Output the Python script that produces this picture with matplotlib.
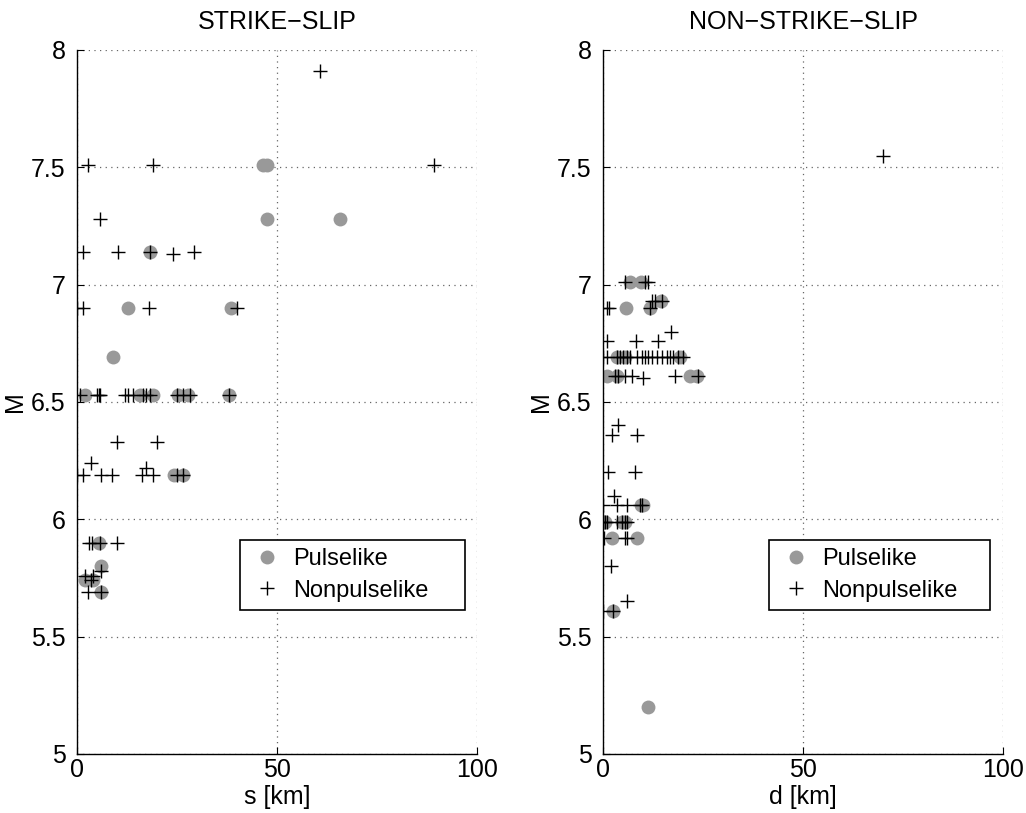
import numpy as np
import matplotlib
matplotlib.use('Agg')
import matplotlib.pyplot as plt

plt.rcParams['font.family'] = ['Liberation Sans', 'DejaVu Sans']
plt.rcParams['font.size'] = 18

# strike-slip: distance s [km] and magnitude M
ss_pulse_x = [46.5, 47.5, 47.5, 65.75, 18.25, 12.8, 38.5, 9, 2, 15.75, 19, 25.25, 27.75, 38,
              24.25, 26.5, 5.5, 6, 2, 4, 6]
ss_pulse_m = [7.51, 7.51, 7.28, 7.28, 7.14, 6.90, 6.90, 6.69, 6.53, 6.53, 6.53, 6.53, 6.53, 6.53,
              6.19, 6.19, 5.90, 5.80, 5.74, 5.74, 5.69]
ss_non_x = [60.8, 89.3, 2.75, 19, 5.75, 1.5, 10.3, 18.25, 24, 29.25, 0, 1.5, 18, 40,
            0.75, 5, 5.5, 5.75, 12, 12.75, 14, 16.5, 17.25, 18.25, 25, 26.5, 28.25, 38,
            10, 20, 3.5, 17.25,
            0, 1.5, 6, 8.75, 16.25, 19, 25, 26.5,
            3, 3.75, 5.75, 10, 6, 2, 3.5, 4, 2.75, 6]
ss_non_m = [7.91, 7.51, 7.51, 7.51, 7.28, 7.14, 7.14, 7.14, 7.13, 7.14, 6.90, 6.90, 6.90, 6.90,
            6.53, 6.53, 6.53, 6.53, 6.53, 6.53, 6.53, 6.53, 6.53, 6.53, 6.53, 6.53, 6.53, 6.53,
            6.33, 6.33, 6.24, 6.22,
            6.19, 6.19, 6.19, 6.19, 6.19, 6.19, 6.19, 6.19,
            5.90, 5.90, 5.90, 5.90, 5.78, 5.76, 5.74, 5.76, 5.69, 5.69]

# non-strike-slip: distance d [km] and magnitude M
ns_pulse_x = [6.75, 9.5, 14.5, 5.75, 11.75, 3.5, 5.5, 19.25, 1, 3.5, 21.75, 23.5,
              9.5, 10, 0, 0.5, 4.75, 5.5, 2.25, 8.5, 2.5, 11.25]
ns_pulse_m = [7.01, 7.01, 6.93, 6.90, 6.90, 6.69, 6.69, 6.69, 6.61, 6.61, 6.61, 6.61,
              6.06, 6.06, 5.99, 5.99, 5.99, 5.99, 5.92, 5.92, 5.61, 5.20]
ns_non_x = [70, 5.5, 10.5, 11.25, 12.25, 13, 14.75, 1, 1.5, 11.75, 17, 1, 8.25, 13.75,
            0, 1, 3.5, 4.25, 5, 6, 6.75, 8.5, 9.75, 10.5, 11.25, 12.25, 13.5, 14.75, 16, 16.75,
            17.5, 18.75, 20,
            3, 3.75, 5.5, 7.25, 18, 23.75, 10,
            3.75, 2.25, 8.5, 1.25, 8, 2.75,
            0, 3.5, 6, 9.25, 9.75,
            0, 0.5, 1, 3.5, 4.75, 5.5, 6,
            0.25, 5.5, 6,
            2, 6, 0, 2.5]
ns_non_m = [7.55, 7.01, 7.01, 7.01, 6.93, 6.93, 6.93, 6.90, 6.90, 6.90, 6.80, 6.76, 6.76, 6.76,
            6.69, 6.69, 6.69, 6.69, 6.69, 6.69, 6.69, 6.69, 6.69, 6.69, 6.69, 6.69, 6.69, 6.69, 6.69, 6.69,
            6.69, 6.69, 6.69,
            6.61, 6.61, 6.61, 6.61, 6.61, 6.61, 6.60,
            6.40, 6.36, 6.36, 6.20, 6.20, 6.10,
            6.06, 6.06, 6.06, 6.06, 6.06,
            5.99, 5.99, 5.99, 5.99, 5.99, 5.99, 5.99,
            5.92, 5.92, 5.92,
            5.80, 5.65, 5.61, 5.61]

yticks = [5, 5.5, 6, 6.5, 7, 7.5, 8]
ytick_labels = ['5', '5.5', '6', '6.5', '7', '7.5', '8']
xticks = [0, 50, 100]


def draw_panel(ax, px, pm, nx, nm, title, xlabel, leg_box):
    ax.plot(px, pm, 'o', color='#999999', markersize=10, markeredgewidth=0, label='Pulselike')
    ax.plot(nx, nm, '+', color='black', markersize=10, markeredgewidth=1.0, label='Nonpulselike')
    ax.set_xlim(0, 100)
    ax.set_ylim(5, 8)
    ax.set_xticks(xticks)
    ax.set_yticks(yticks)
    ax.set_yticklabels(ytick_labels)
    ax.grid(True, linestyle=(0, (1, 3.5)), color='#666666', linewidth=0.9)
    ax.set_axisbelow(True)
    for side in ['top', 'right']:
        ax.spines[side].set_visible(False)
    for side in ['left', 'bottom']:
        ax.spines[side].set_linewidth(1.0)
    ax.tick_params(direction='in', length=5, width=0.8)
    ax.tick_params(axis='y', pad=8)
    ax.tick_params(axis='x', pad=3)
    ax.set_title(title, fontsize=18, pad=15)
    ax.set_xlabel(xlabel, labelpad=2)
    ax.set_ylabel('M', labelpad=3)
    leg = ax.legend(loc='upper left', bbox_to_anchor=leg_box, mode='expand', borderaxespad=0,
                    fancybox=False, edgecolor='black', framealpha=1, handlelength=1.6,
                    handletextpad=0.3, borderpad=0.35, labelspacing=0.4, fontsize=17)
    leg.get_frame().set_linewidth(1.2)


fig = plt.figure(figsize=(10.26, 8.13), dpi=100)
ax1 = fig.add_axes([0.075, 0.0726, 0.39, 0.866])
ax2 = fig.add_axes([0.5877, 0.0726, 0.39, 0.866])
draw_panel(ax1, ss_pulse_x, ss_pulse_m, ss_non_x, ss_non_m, 'STRIKE\u2212SLIP', 's [km]',
           (0.4075, 0.204, 0.5625, 0.1))
draw_panel(ax2, ns_pulse_x, ns_pulse_m, ns_non_x, ns_non_m, 'NON\u2212STRIKE\u2212SLIP', 'd [km]',
           (0.415, 0.204, 0.5525, 0.1))
fig.savefig('out.png', dpi=100)
